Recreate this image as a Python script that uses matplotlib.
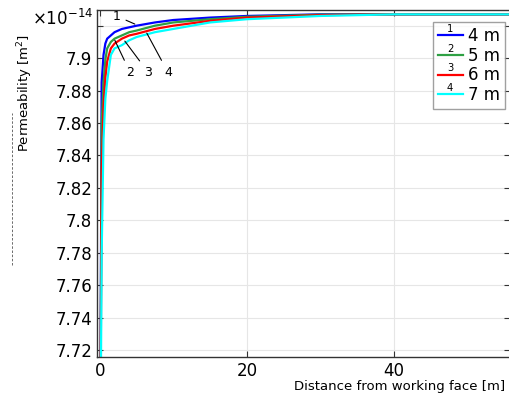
import matplotlib
matplotlib.use('Agg')
import matplotlib.pyplot as plt
from matplotlib.legend_handler import HandlerLine2D
from matplotlib.text import Text
from matplotlib.lines import Line2D

# distance from working face [m]
distance = [0, 0.25, 0.5, 0.75, 1, 1.5, 2, 3, 4, 5, 7.5, 10, 15, 20, 30, 40, 56]

# permeability in units of 1e-14 m^2
perm_4m = [7.60, 7.885, 7.902, 7.909, 7.912, 7.914, 7.916, 7.918, 7.919, 7.920,
           7.922, 7.9235, 7.925, 7.926, 7.927, 7.927, 7.927]
perm_5m = [7.60, 7.860, 7.885, 7.899, 7.906, 7.910, 7.912, 7.914, 7.916, 7.917,
           7.920, 7.922, 7.924, 7.9255, 7.9268, 7.927, 7.927]
perm_6m = [7.60, 7.830, 7.870, 7.888, 7.898, 7.906, 7.909, 7.912, 7.914, 7.915,
           7.918, 7.920, 7.923, 7.925, 7.9265, 7.927, 7.927]
perm_7m = [7.60, 7.780, 7.850, 7.875, 7.886, 7.902, 7.906, 7.908, 7.911, 7.913,
           7.916, 7.918, 7.922, 7.924, 7.926, 7.927, 7.927]

series = [perm_4m, perm_5m, perm_6m, perm_7m]
labels = ['4 m', '5 m', '6 m', '7 m']
colors = ['#0000ff', '#2ea043', '#ff0000', '#00ffff']

yticks = [7.72, 7.74, 7.76, 7.78, 7.80, 7.82, 7.84, 7.86, 7.88, 7.90, 7.92]
ytick_labels = ['7.72', '7.74', '7.76', '7.78', '7.8', '7.82', '7.84', '7.86', '7.88', '7.9', '']
xticks = [0, 20, 40]


class NumberedHandler(HandlerLine2D):
    def __init__(self, num, **kw):
        super().__init__(**kw)
        self.num = num

    def create_artists(self, legend, orig_handle, xdescent, ydescent,
                       width, height, fontsize, trans):
        artists = super().create_artists(legend, orig_handle, xdescent, ydescent,
                                         width, height, fontsize, trans)
        t = Text(width / 2 - xdescent, height / 2 - ydescent + 1, self.num,
                 ha='center', va='bottom', fontsize=fontsize * 0.6, transform=trans)
        return artists + [t]


fig = plt.figure(figsize=(5.1, 4.05), dpi=100)
ax = fig.add_axes([0.19, 0.1185, 0.81, 0.8565])

lines = []
for vals, lab, c in zip(series, labels, colors):
    ln, = ax.plot(distance, vals, color=c, lw=1.6, label=lab)
    lines.append(ln)

ax.set_xlim(-0.4, 55.8)
ax.set_ylim(7.7157, 7.9296)
ax.set_xticks(xticks)
ax.set_yticks(yticks)
ax.set_yticklabels(ytick_labels)
ax.tick_params(direction='in', labelsize=12, top=True, right=True, length=4, color='#333333')
ax.grid(True, color='#e6e6e6', lw=0.8)
ax.set_axisbelow(True)
for s in ax.spines.values():
    s.set_color('#333333')
    s.set_linewidth(1.0)

ax.text(-0.01, 0.975, r'$\times10^{-14}$', transform=ax.transAxes,
        ha='right', va='center', fontsize=12)

ax.set_xlabel('Distance from working face [m]', loc='right', fontsize=9.5)
ax.xaxis.set_label_coords(0.988, -0.065)
ax.set_ylabel('Permeability [m$^2$]', fontsize=9.5)
ax.yaxis.set_label_coords(-0.15, 0.76)
fig.add_artist(Line2D([12 / 510, 12 / 510], [1 - 265 / 405, 1 - 113 / 405],
                      transform=fig.transFigure, color='#555555', lw=0.6,
                      linestyle=(0, (3, 2))))

# curve numbers with leader lines
ax.annotate('1', xy=(4.76, 7.921), xytext=(2.3, 7.9259), fontsize=9,
            ha='center', va='center', arrowprops=dict(arrowstyle='-', lw=0.8, shrinkA=2, shrinkB=0))
ax.annotate('2', xy=(2.04, 7.911), xytext=(4.1, 7.8914), fontsize=9,
            ha='center', va='center', arrowprops=dict(arrowstyle='-', lw=0.8, shrinkA=2, shrinkB=0))
ax.annotate('3', xy=(3.4, 7.9105), xytext=(6.55, 7.8914), fontsize=9,
            ha='center', va='center', arrowprops=dict(arrowstyle='-', lw=0.8, shrinkA=2, shrinkB=0))
ax.annotate('4', xy=(6.39, 7.9154), xytext=(9.25, 7.8914), fontsize=9,
            ha='center', va='center', arrowprops=dict(arrowstyle='-', lw=0.8, shrinkA=2, shrinkB=0))

handler_map = {ln: NumberedHandler(str(i + 1)) for i, ln in enumerate(lines)}
leg = ax.legend(handles=lines, handler_map=handler_map, loc='upper right',
                bbox_to_anchor=(0.995, 0.975), fontsize=12, frameon=True, fancybox=False,
                handlelength=1.5, handletextpad=0.3, labelspacing=0.1, borderpad=0.3,
                borderaxespad=0.2)
leg.get_frame().set_edgecolor('#888888')
leg.get_frame().set_linewidth(1.0)

plt.savefig('out.png', dpi=100)
